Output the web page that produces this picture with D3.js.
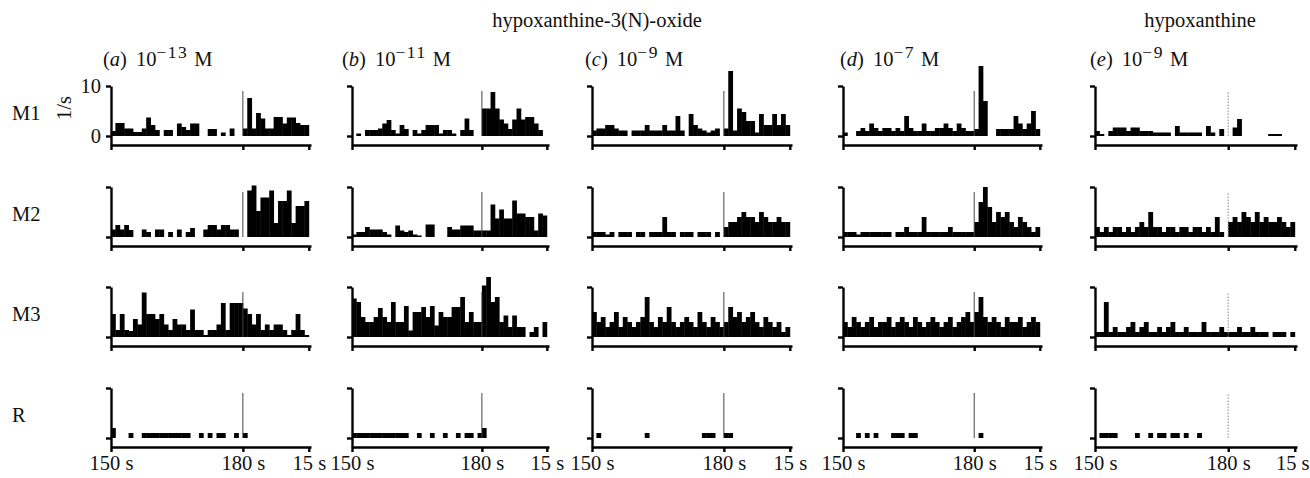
<!DOCTYPE html>
<html><head><meta charset="utf-8">
<script src="https://cdn.jsdelivr.net/npm/d3@7"></script>
<style>
body{margin:0;background:#fff}
svg{display:block}
text{font-family:"Liberation Serif","Times New Roman",serif;fill:#111}
</style>
</head><body>
<svg id="chart" width="1310" height="478"></svg>
<script>
// ---------- data ----------
const panelLetters = ["a","b","c","d","e"];
const panelExponents = ["−13","−11","−9","−7","−9"];
const rowNames = ["M1","M2","M3","R"];
const groupTitles = ["hypoxanthine-3(N)-oxide","hypoxanthine"];
const xTickValues = [150,180,195];
const xTickLabels = ["150 s","180 s","15 s"];
const yTickValues = [0,10];
const yTickLabels = ["0","10"];
const binStart = 150;      // 1-s bins from 150 s
const stimulusTime = 180;
const stimulusTop = 9;

const a_M1 = [1,2.6,2.6,1.5,1.5,0.8,0.8,1.5,3.7,2.2,1.2,0,1.2,1.2,0,2.5,1.8,1.2,2.5,2.5,0,0,1.4,1.4,0,0.7,0,1.5,0,0, 1.5,7.6,1.5,4.6,3.5,1.5,1.5,3.8,3.8,2.5,3.7,3.7,2.6,2.2,2.2];
const a_M2 = [1.5,2.4,1.5,2.4,1.4,0,0,1.5,1,0,1.5,1.5,0,1,0,1.5,0,1,1.8,0,0,1.5,2.4,2.4,1.5,2.4,2.4,1.5,1.5,0, 0,9.3,10.3,5.2,7.9,7.9,9.3,2.8,7.2,7.2,9.3,2.8,6.2,6.2,7.2];
const a_M3 = [4.6,1.4,4.6,1.4,1.2,3.6,2.5,8.9,4.6,4.6,3.6,4.6,2.5,1.4,3.6,2.5,2.5,1.4,5.5,1.4,1.4,0.4,1.4,1.4,2.5,6.8,1.4,6.8,6.8,6.8, 5.7,4.6,2.5,4.6,1.4,2.5,1.4,2.5,2.5,1.4,0.4,1.4,4.6,1.4,0.4];
const a_R  = [2,0,0,0,1,0,0,1,1,1,1,1,1,1,1,1,1,1,0,0,1,0,1,0,1,1,0,0,1,0, 1,0,0,0,0,0,0,0,0,0,0,0,0,0,0];

const b_M1 = [0,0.5,0,1.2,1.2,1.2,1.5,2.5,3.2,1.2,0.5,2.2,1.4,0,1.2,0.5,1.2,2.2,2.2,2.2,0.5,1.2,1.2,0.5,0,1.2,3.5,1.2,0,0, 5.5,5.5,8.8,5.5,3.3,2.5,1.4,3.3,5.5,3.3,3.8,3.8,2.5,1.2,0];
const b_M2 = [0.5,1,1,2,1.5,1.5,1.5,1,0.5,0,2.3,1.3,1,1.3,0.5,0.3,0,2.5,2.5,0,0,0,2,1.5,1.5,2.3,2.3,2.3,1.3,1.3, 1.3,1.3,6.5,3.7,5.5,3.7,3.7,7.3,4.7,4.7,4,4,1.3,4.7,4.3];
const b_M3 = [7.7,7,4,3,3,4,5.8,4,3,7,3,3,6.2,1.3,5,5,6,4,6.2,2.3,5,4,4,6,6,8,3,5,3,3, 10.3,12,7,8,3,4.3,2,4.3,2,2,0,1,2,0,3];
const b_R  = [1,1,1,1,1,1,1,1,1,1,1,1,1,0,0,1,0,0,1,0,0,1,0,0,1,0,1,1,0,1, 2,0,0,0,0,0,0,0,0,0,0,0,0,0,0];

const c_M1 = [1.1,1.5,1.5,2.2,2.2,1.5,1.1,1.1,0,1.1,1.1,1.1,2.2,1.1,1.1,1.1,2.2,1.1,1.1,4,1.1,0,4.4,2.2,1.5,1.1,0.7,1.1,1.5,0, 1.5,13,1.1,5.5,4.8,3,3,0.7,4.4,2.2,2.2,4.4,2.2,4.4,2.2];
const c_M2 = [1,1,1,0.5,1,0,1,1,1,0,1,1,0,1,1,1,4,1,1,0,1,1,1,0,1,1,1,0,1,0, 2,3,3,4,5,4,4,3,5,4,3,3,4,3,3];
const c_M3 = [5,3,4,2,3,5,2,4,3,2,3,4,8,3,2,4,3,6,3,2,3,4,3,2,5,3,2,4,3,2, 3,6,4,5,3,4,5,3,2,4,3,2,3,1,2];
const c_R  = [0,1,0,0,0,0,0,0,0,0,0,0,1,0,0,0,0,0,0,0,0,0,0,0,0,1,1,1,0,0, 1,1,0,0,0,0,0,0,0,0,0,0,0,0,0];

const d_M1 = [0.7,0,0,1,1.6,1,2.5,1.6,1,1.6,1.6,1,1.6,1,4,1.6,1,1,2.5,1,1,1.6,1.6,2.5,1.6,1,2.5,1.6,1,1, 1.4,14,7,0,0,1.4,1.4,1.4,1.4,4,2.5,1.4,2.5,5,1.4];
const d_M2 = [1,1,1,0.5,1,1,1,1,1,1,1,0,1,1,2,1,1,1,4,1,1,1,1,1,2,1,1,1,1,1, 3,7,10,6,3,5,4,5,3,2,4,3,2,1,2];
const d_M3 = [3,2,4,3,2,3,4,2,3,3,4,2,3,4,3,2,4,3,2,3,4,3,2,3,4,2,3,4,5,3, 5,8,4,3,4,3,2,4,3,3,4,2,3,4,3];
const d_R  = [0,0,0,1,0,1,0,1,0,0,0,1,1,1,0,1,1,0,0,0,0,0,0,0,0,0,0,0,0,0, 0,1,0,0,0,0,0,0,0,0,0,0,0,0,0];

const e_M1 = [1,0.4,0,1,1.7,1.7,1.7,1,1.7,1.7,1,1,1,0.7,0.7,0.7,0.7,0,2,0.7,0.7,0.7,0.7,0.7,0,2,0.7,0,1.4,0, 0,1.7,3.4,0,0,0,0,0,0,0.4,0.4,0.4,0,0,0];
const e_M2 = [2,1,2,1,2,2,1,2,1,2,3,2,5,2,2,1,2,2,1,2,2,1,2,2,1,2,1,4,1,0, 3,4,3,5,4,3,5,3,4,3,3,4,3,2,3];
const e_M3 = [1,1,7,1,2,1,1,2,3,1,2,3,1,1,2,1,2,3,1,1,2,1,1,1,3,1,1,1,2,1, 1,1,2,1,1,2,1,1,1,0,1,1,1,0,1];
const e_R  = [0,1,1,1,1,0,0,0,0,1,0,0,1,0,1,1,0,1,1,0,1,0,0,1,0,0,0,0,0,0, 0,0,0,0,0,0,0,0,0,0,0,0,0,0,0];

const panelData = [
  [a_M1,a_M2,a_M3,a_R],
  [b_M1,b_M2,b_M3,b_R],
  [c_M1,c_M2,c_M3,c_R],
  [d_M1,d_M2,d_M3,d_R],
  [e_M1,e_M2,e_M3,e_R]
];

// ---------- layout ----------
const colX = [111, 352, 592, 843, 1095];
const colW = [200, 197, 200, 199, 202];
const labelX = [103, 342, 585, 840, 1090];
const rowBase = [136, 237, 337, 438];   // y of value 0
const pxPerUnit = 5;
const axisGap = 9;

const svg = d3.select("#chart");

svg.append("text").attr("x", 597).attr("y", 27).attr("text-anchor","middle")
  .style("font-size","20.5px").text(groupTitles[0]);
svg.append("text").attr("x", 1200).attr("y", 27).attr("text-anchor","middle")
  .style("font-size","20.5px").text(groupTitles[1]);

panelLetters.forEach((L,i)=>{
  const t = svg.append("text").attr("x", labelX[i]).attr("y", 66).style("font-size","20.5px");
  t.append("tspan").text("(");
  t.append("tspan").style("font-style","italic").text(L);
  t.append("tspan").text(")");
  t.append("tspan").attr("dx",9).text("10");
  t.append("tspan").attr("dy",-8.5).style("font-size","17.5px").style("letter-spacing","1.5px").text(panelExponents[i]);
  t.append("tspan").attr("dy",8.5).attr("dx",6).text("M");
});

rowNames.forEach((r,j)=>{
  svg.append("text").attr("x", 12).attr("y", rowBase[j]-16).style("font-size","20.5px").text(r);
});
svg.append("text").attr("transform","translate(71,108) rotate(-90)").attr("text-anchor","middle")
  .style("font-size","20.5px").text("1/s");

panelData.forEach((rows,i)=>{
  const x = d3.scaleLinear().domain([150,195.5]).range([colX[i], colX[i]+colW[i]]);
  rows.forEach((vals,j)=>{
    const base = rowBase[j];
    const y = d3.scaleLinear().domain([-axisGap/pxPerUnit, 10]).range([base+axisGap, base-10*pxPerUnit]);
    const g = svg.append("g");
    g.selectAll("rect").data(vals.map((v,k)=>({t:binStart+k, v})).filter(d=>d.v>0))
      .join("rect")
      .attr("x", d=>x(d.t))
      .attr("width", d=>x(d.t+1)-x(d.t)+0.4)
      .attr("y", d=>y(d.v))
      .attr("height", d=>y(0)-y(d.v))
      .attr("fill","#000");
    g.append("line")
      .attr("x1", x(stimulusTime)).attr("x2", x(stimulusTime))
      .attr("y1", y(0)).attr("y2", y(stimulusTop))
      .attr("stroke", i===4 ? "#888" : "#444").attr("stroke-width",1)
      .attr("stroke-dasharray", i===4 ? "1.5,1.5" : null);
    const xa = g.append("g").attr("transform",`translate(0,${base+axisGap})`)
      .call(d3.axisBottom(x).tickValues(xTickValues).tickSize(5).tickSizeOuter(0)
        .tickFormat((d,k)=> j===3 ? xTickLabels[k] : ""));
    xa.select(".domain").attr("stroke","#000").attr("stroke-width",2.4);
    xa.selectAll(".tick line").attr("stroke","#000").attr("stroke-width",2.4);
    xa.selectAll(".tick text").style("font-size","20.5px").style("font-family","Liberation Serif").attr("fill","#111");
    if (i === panelData.length-1) {
      xa.selectAll(".tick text").filter((d)=>d===195).attr("text-anchor","end").attr("x", 1309 - x(195));
    }
    const ya = g.append("g").attr("transform",`translate(${colX[i]},0)`)
      .call(d3.axisLeft(y).tickValues(yTickValues).tickSize(5).tickSizeOuter(0)
        .tickFormat((d,k)=> (i===0 && j===0) ? yTickLabels[k] : ""));
    ya.select(".domain").attr("stroke","#000").attr("stroke-width",2.4);
    ya.selectAll(".tick line").attr("stroke","#000").attr("stroke-width",2.4);
    ya.selectAll(".tick text").style("font-size","20.5px").style("font-family","Liberation Serif").attr("dx","-0.1em").attr("fill","#111");
  });
});
</script>
</body></html>
